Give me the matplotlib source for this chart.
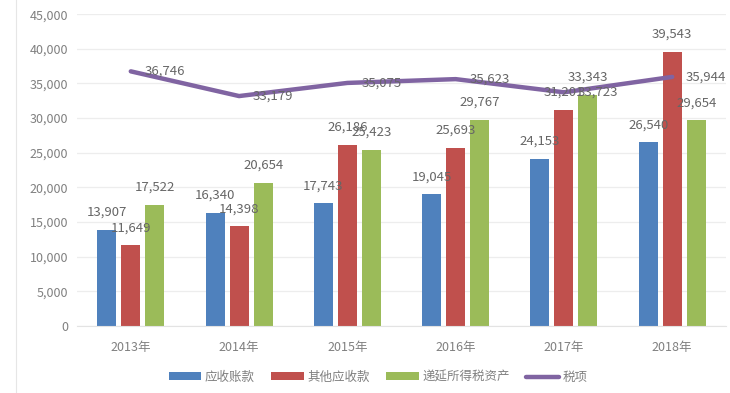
import matplotlib
matplotlib.use("Agg")
import matplotlib.pyplot as plt
import numpy as np
from matplotlib.lines import Line2D

plt.rcParams['font.family'] = ['Noto Sans CJK SC', 'DejaVu Sans']

years = ['2013年', '2014年', '2015年', '2016年', '2017年', '2018年']
receivables = [13907, 16340, 17743, 19045, 24153, 26540]
other_recv = [11649, 14398, 26186, 25693, 31201, 39543]
deferred_tax = [17522, 20654, 25423, 29767, 33343, 29654]
taxes = [36746, 33179, 35075, 35623, 33723, 35944]

c_blue = '#4F81BD'
c_red = '#C0504D'
c_green = '#9BBB59'
c_purple = '#8064A2'
c_label = '#666666'
c_tick = '#808080'

fig = plt.figure(figsize=(7.3, 3.93), dpi=100)
ax = fig.add_axes([0.105, 0.1705, 0.89, 0.7935])

x = np.arange(len(years))
w = 0.176
step = 0.222

series = [(receivables, c_blue, '应收账款'),
          (other_recv, c_red, '其他应收款'),
          (deferred_tax, c_green, '递延所得税资产')]

for i, (vals, col, name) in enumerate(series):
    xs = x + (i - 1) * step
    ax.bar(xs, vals, width=w, color=col, label=name, zorder=2)
    for xi, v in zip(xs, vals):
        ax.annotate(f'{v:,}', (xi, v), xytext=(0, 12.5), textcoords='offset points',
                    ha='center', va='center', fontsize=9.5, color=c_label, zorder=4)

ax.plot(x, taxes, color=c_purple, lw=3.2, label='税项', zorder=3, solid_capstyle='round')
for xi, v in zip(x, taxes):
    ax.annotate(f'{v:,}', (xi, v), xytext=(10, 0), textcoords='offset points',
                ha='left', va='center', fontsize=9.5, color=c_label, zorder=4)

ax.set_xlim(-0.5, 5.5)
ax.set_ylim(0, 45000)
ax.set_yticks(range(0, 45001, 5000))
ax.set_yticklabels([f'{t:,}' for t in range(0, 45001, 5000)])
ax.set_xticks(x)
ax.set_xticklabels(years)
ax.tick_params(axis='both', length=0, labelsize=9, colors=c_tick)
ax.tick_params(axis='y', pad=6)
ax.tick_params(axis='x', pad=11)
ax.grid(axis='y', color='#EDEDED', lw=0.9, zorder=0)
for s in ['top', 'right', 'left']:
    ax.spines[s].set_visible(False)
ax.spines['bottom'].set_color('#E3E3E3')

fig.add_artist(Line2D([16 / 730, 16 / 730], [0, 1], color='#E6E6E6', lw=0.8))

handles, labels = ax.get_legend_handles_labels()
order = [1, 2, 3, 0]
fig.legend([handles[k] for k in order], [labels[k] for k in order],
           loc='center', bbox_to_anchor=(0.518, 0.04), ncol=4, frameon=False,
           fontsize=9, labelcolor=c_tick, handlelength=2.6, handleheight=0.6,
           handletextpad=0.3, columnspacing=1.3)

fig.savefig('out.png', dpi=100)
